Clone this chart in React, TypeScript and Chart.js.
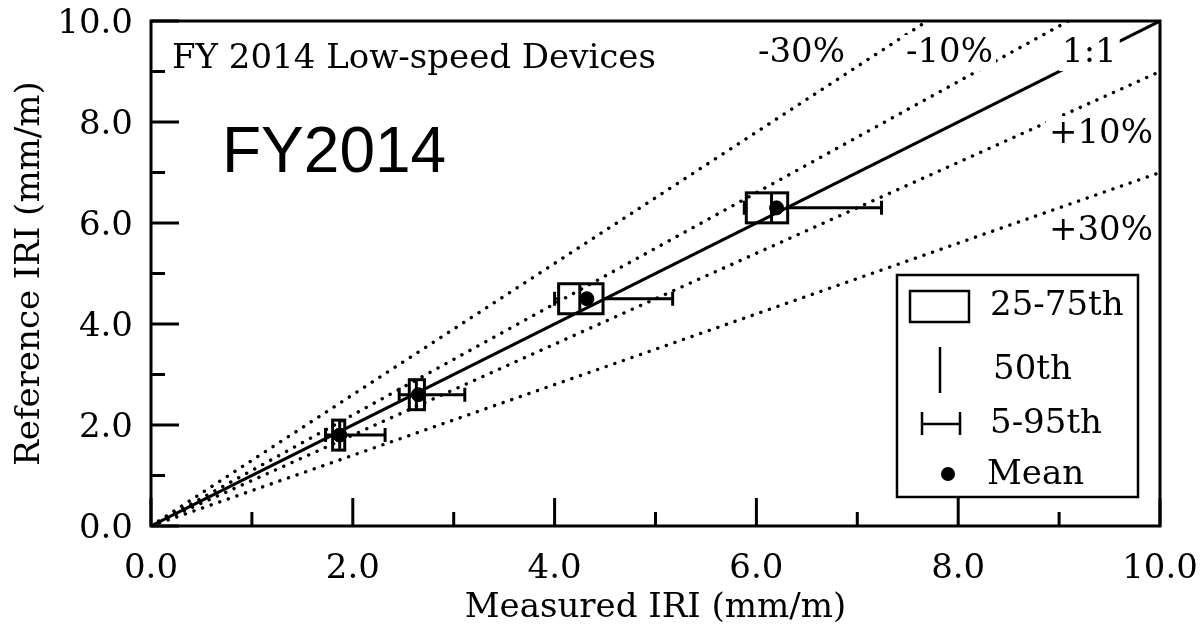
import React, { useEffect, useRef } from 'react';
import { Chart, registerables } from 'chart.js';

Chart.register(...registerables);

const SERIF = '"DejaVu Serif", serif';
const SANS = '"Liberation Sans", Arial, sans-serif';

// ---- data ----
const axisTicks = [0, 2, 4, 6, 8, 10];
const minorTicks = [1, 3, 5, 7, 9];
const referenceIRI = [1.8, 2.6, 4.5, 6.3];
const p5 = [1.73, 2.46, 4.0, 5.88];
const p25 = [1.8, 2.56, 4.04, 5.9];
const p50 = [1.87, 2.63, 4.25, 6.15];
const p75 = [1.92, 2.71, 4.48, 6.31];
const p95 = [2.32, 3.11, 5.17, 7.24];
const meanIRI = [1.87, 2.65, 4.32, 6.2];

const line11 = [{ x: 0, y: 0 }, { x: 10, y: 10 }];
const lineMinus30 = [{ x: 0, y: 0 }, { x: 10, y: 13 }];
const lineMinus10 = [{ x: 0, y: 0 }, { x: 10, y: 11 }];
const linePlus10 = [{ x: 0, y: 0 }, { x: 10, y: 9 }];
const linePlus30 = [{ x: 0, y: 0 }, { x: 10, y: 7 }];

const lineLabels = ['-30%', '-10%', '1:1', '+10%', '+30%'];
const panelTitle = 'FY 2014 Low-speed Devices';
const bigTitle = 'FY2014';
const legendLabels = ['25-75th', '50th', '5-95th', 'Mean'];

const dotted = (data: any) => ({
  type: 'line' as const,
  data,
  borderColor: '#000',
  borderWidth: 3.4,
  borderDash: [0.1, 9],
  borderCapStyle: 'round' as const,
  pointRadius: 0,
  fill: false,
});

const annotPlugin = {
  id: 'annot',
  beforeDatasetsDraw(chart: any) {
    const ctx = chart.ctx;
    const xs = chart.scales.x;
    const ys = chart.scales.y;
    ctx.save();
    ctx.strokeStyle = '#000';
    ctx.lineWidth = 3;
    for (let i = 0; i < referenceIRI.length; i++) {
      const y = ys.getPixelForValue(referenceIRI[i]);
      const a = xs.getPixelForValue(p25[i]);
      const b = xs.getPixelForValue(p75[i]);
      const m = xs.getPixelForValue(p50[i]);
      const w1 = xs.getPixelForValue(p5[i]);
      const w2 = xs.getPixelForValue(p95[i]);
      const h = 15;
      ctx.strokeRect(a, y - h, b - a, 2 * h);
      ctx.beginPath();
      ctx.moveTo(m, y - h);
      ctx.lineTo(m, y + h);
      ctx.moveTo(b, y);
      ctx.lineTo(w2, y);
      ctx.moveTo(w2, y - 7);
      ctx.lineTo(w2, y + 7);
      ctx.moveTo(w1, y);
      ctx.lineTo(a, y);
      ctx.moveTo(w1, y - 7);
      ctx.lineTo(w1, y + 7);
      ctx.stroke();
    }
    ctx.restore();
  },
  afterDatasetsDraw(chart: any) {
    const ctx = chart.ctx;
    const xs = chart.scales.x;
    const ys = chart.scales.y;
    const { left, right, top, bottom } = chart.chartArea;
    ctx.save();
    ctx.textBaseline = 'middle';
    ctx.textAlign = 'left';

    const label = (t: string, x: number, y: number, font: string, bg = true) => {
      ctx.font = font;
      const w = ctx.measureText(t).width;
      if (bg) {
        ctx.fillStyle = '#fff';
        ctx.fillRect(x - 3, y - 18, w + 6, 36);
      }
      ctx.fillStyle = '#000';
      ctx.fillText(t, x, y);
    };
    const f = `34px ${SERIF}`;
    label(lineLabels[0], 758, 53, f);
    label(lineLabels[1], 906, 53, f);
    label(lineLabels[2], 1062, 53, f);
    label(lineLabels[3], 1049, 134, f);
    label(lineLabels[4], 1049, 231, f);
    label(panelTitle, 172, 59, `34px ${SERIF}`);
    label(bigTitle, 222, 154, `64px ${SANS}`, false);

    // legend
    ctx.fillStyle = '#fff';
    ctx.fillRect(897, 275, 241, 222);
    ctx.strokeStyle = '#000';
    ctx.lineWidth = 2.5;
    ctx.strokeRect(897, 275, 241, 222);
    ctx.strokeRect(910, 291, 59, 31);
    ctx.beginPath();
    ctx.moveTo(940, 347);
    ctx.lineTo(940, 393);
    ctx.moveTo(922, 424);
    ctx.lineTo(960, 424);
    ctx.moveTo(922, 412);
    ctx.lineTo(922, 435);
    ctx.moveTo(960, 412);
    ctx.lineTo(960, 435);
    ctx.stroke();
    ctx.fillStyle = '#000';
    ctx.beginPath();
    ctx.arc(948, 474, 7, 0, Math.PI * 2);
    ctx.fill();
    ctx.font = f;
    ctx.fillText(legendLabels[0], 990, 306);
    ctx.fillText(legendLabels[1], 993, 370);
    ctx.fillText(legendLabels[2], 990, 424);
    ctx.fillText(legendLabels[3], 987, 475);

    // frame and inward ticks
    ctx.lineWidth = 3;
    ctx.strokeRect(left, top, right - left, bottom - top);
    ctx.beginPath();
    for (const v of axisTicks) {
      const px = xs.getPixelForValue(v);
      ctx.moveTo(px, bottom);
      ctx.lineTo(px, bottom - 28);
      const py = ys.getPixelForValue(v);
      ctx.moveTo(left, py);
      ctx.lineTo(left + 28, py);
    }
    for (const v of minorTicks) {
      const px = xs.getPixelForValue(v);
      ctx.moveTo(px, bottom);
      ctx.lineTo(px, bottom - 14);
      const py = ys.getPixelForValue(v);
      ctx.moveTo(left, py);
      ctx.lineTo(left + 14, py);
    }
    ctx.stroke();
    ctx.restore();
  },
};

export default function App() {
  const ref = useRef<HTMLCanvasElement>(null);
  useEffect(() => {
    if (!ref.current) return;
    const chart = new Chart(ref.current, {
      type: 'scatter',
      data: {
        datasets: [
          {
            type: 'line',
            data: line11,
            borderColor: '#000',
            borderWidth: 3,
            pointRadius: 0,
            fill: false,
          } as any,
          dotted(lineMinus30),
          dotted(lineMinus10),
          dotted(linePlus10),
          dotted(linePlus30),
          {
            type: 'scatter',
            data: meanIRI.map((m, i) => ({ x: m, y: referenceIRI[i] })),
            backgroundColor: '#000',
            borderColor: '#000',
            pointRadius: 7,
            pointHoverRadius: 7,
          } as any,
        ],
      },
      options: {
        animation: false,
        responsive: true,
        maintainAspectRatio: false,
        events: [],
        layout: { padding: { top: 21, right: 41, left: 0, bottom: 0 } },
        plugins: { legend: { display: false }, tooltip: { enabled: false } },
        scales: {
          x: {
            type: 'linear',
            min: 0,
            max: 10,
            afterFit: (s: any) => {
              s.height = 115;
              s.paddingLeft = 0;
              s.paddingRight = 0;
            },
            afterBuildTicks: (s: any) => {
              s.ticks = axisTicks.map((v) => ({ value: v }));
            },
            grid: { display: false, drawTicks: false },
            border: { display: false },
            ticks: {
              padding: 23,
              color: '#000',
              maxRotation: 0,
              font: { family: SERIF, size: 34 },
              callback: (v: any) => Number(v).toFixed(1),
            },
            title: {
              display: true,
              text: 'Measured IRI (mm/m)',
              color: '#000',
              font: { family: SERIF, size: 34 },
              padding: { top: 0, bottom: 12 },
            },
          },
          y: {
            type: 'linear',
            min: 0,
            max: 10,
            afterFit: (s: any) => {
              s.width = 151;
              s.paddingTop = 0;
              s.paddingBottom = 0;
            },
            afterBuildTicks: (s: any) => {
              s.ticks = axisTicks.map((v) => ({ value: v }));
            },
            grid: { display: false, drawTicks: false },
            border: { display: false },
            ticks: {
              padding: 18,
              labelOffset: 3,
              color: '#000',
              font: { family: SERIF, size: 34 },
              callback: (v: any) => Number(v).toFixed(1),
            },
            title: {
              display: true,
              text: 'Reference IRI (mm/m)',
              color: '#000',
              font: { family: SERIF, size: 34 },
              padding: { top: 10, bottom: 0 },
            },
          },
        },
      },
      plugins: [annotPlugin],
    });
    return () => chart.destroy();
  }, []);
  return (
    <div style={{ position: 'absolute', left: 0, top: 0, width: 1201, height: 641, background: '#fff' }}>
      <canvas ref={ref} />
    </div>
  );
}
